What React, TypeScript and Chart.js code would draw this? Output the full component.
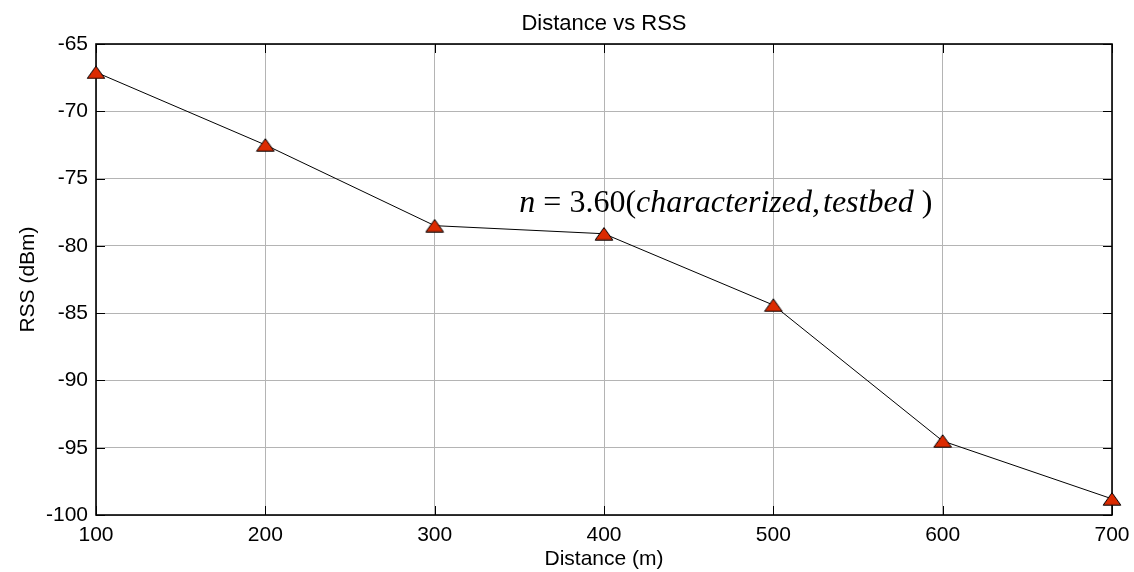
import React, { useEffect, useRef } from "react";
import { Chart, registerables } from "chart.js";

Chart.register(...registerables);

const distances = [100, 200, 300, 400, 500, 600, 700];
const rssValues = [-67.1, -72.5, -78.5, -79.1, -84.4, -94.5, -98.8];
const chartTitle = "Distance vs RSS";
const xTitle = "Distance (m)";
const yTitle = "RSS (dBm)";
const annotationPos = [350, -77.45];
const annotationParts: [string, boolean][] = [
  ["n", true],
  [" = 3.60(", false],
  ["characterized", true],
  [",", false],
  ["testbed", true],
  [" )", false],
];

const SANS = '"Liberation Sans", Arial, sans-serif';
const FS = 21;

function makeTriangle(): HTMLCanvasElement {
  const c = document.createElement("canvas");
  c.width = 20;
  c.height = 14;
  const g = c.getContext("2d")!;
  g.beginPath();
  g.moveTo(10, 0.8);
  g.lineTo(1.2, 13.2);
  g.lineTo(18.8, 13.2);
  g.closePath();
  g.fillStyle = "#dc2a00";
  g.fill();
  g.lineWidth = 1;
  g.strokeStyle = "#000";
  g.stroke();
  return c;
}

const boxPlugin = {
  id: "boxPlugin",
  beforeDatasetsDraw(chart: any) {
    const { ctx, chartArea: a, scales } = chart;
    ctx.save();
    ctx.strokeStyle = "#000";
    ctx.lineWidth = 1;
    const tl = 9;
    scales.x.ticks.forEach((t: any) => {
      const px = Math.round(scales.x.getPixelForValue(t.value)) + 0.5;
      ctx.beginPath();
      ctx.moveTo(px, a.bottom);
      ctx.lineTo(px, a.bottom - tl);
      ctx.moveTo(px, a.top);
      ctx.lineTo(px, a.top + tl);
      ctx.stroke();
    });
    scales.y.ticks.forEach((t: any) => {
      const py = Math.round(scales.y.getPixelForValue(t.value)) + 0.5;
      ctx.beginPath();
      ctx.moveTo(a.left, py);
      ctx.lineTo(a.left + tl, py);
      ctx.moveTo(a.right, py);
      ctx.lineTo(a.right - tl, py);
      ctx.stroke();
    });
    ctx.lineWidth = 1.6;
    ctx.strokeRect(a.left, a.top, a.right - a.left, a.bottom - a.top);
    ctx.restore();
  },
  afterDraw(chart: any) {
    const { ctx, scales, chartArea: a } = chart;
    ctx.save();
    ctx.fillStyle = "#000";
    ctx.textAlign = "center";
    ctx.textBaseline = "alphabetic";
    ctx.font = `22px ${SANS}`;
    ctx.fillText(chartTitle, (a.left + a.right) / 2, 29.5);

    let x = scales.x.getPixelForValue(annotationPos[0]);
    const y = scales.y.getPixelForValue(annotationPos[1]);
    ctx.textAlign = "left";
    annotationParts.forEach(([t, it]) => {
      ctx.font = `${it ? "italic " : ""}32px "Liberation Serif", "Times New Roman", serif`;
      ctx.fillText(t, x, y);
      x += ctx.measureText(t).width + (t === "," ? 3 : 0);
    });
    ctx.restore();
  },
};

export default function App() {
  const ref = useRef<HTMLCanvasElement>(null);
  useEffect(() => {
    const chart = new Chart(ref.current!, {
      type: "line",
      data: {
        datasets: [
          {
            data: distances.map((d, i) => ({ x: d, y: rssValues[i] })),
            borderColor: "#000",
            borderWidth: 1,
            pointStyle: makeTriangle() as any,
            pointRadius: 9,
            tension: 0,
            clip: false as any,
          },
        ],
      },
      options: {
        animation: false,
        responsive: false,
        layout: { padding: { left: 0, right: 22, top: 44, bottom: 0 } },
        plugins: {
          legend: { display: false },
          tooltip: { enabled: false },
          title: { display: false },
        },
        scales: {
          x: {
            type: "linear",
            min: 100,
            max: 700,
            afterFit: (s: any) => {
              s.height = 57;
              s.paddingLeft = 0;
              s.paddingRight = 0;
            },
            ticks: {
              stepSize: 100,
              color: "#000",
              padding: 8,
              font: { family: SANS, size: FS },
            },
            grid: { color: "#b4b4b4", drawTicks: false, lineWidth: 1 },
            border: { display: false },
            title: {
              display: true,
              text: xTitle,
              color: "#000",
              font: { family: SANS, size: FS },
              padding: { top: 0, bottom: 0 },
            },
          },
          y: {
            type: "linear",
            min: -100,
            max: -65,
            afterFit: (s: any) => {
              s.width = 96;
              s.paddingTop = 0;
              s.paddingBottom = 0;
            },
            ticks: {
              stepSize: 5,
              color: "#000",
              padding: 8,
              font: { family: SANS, size: FS },
            },
            grid: { color: "#b4b4b4", drawTicks: false, lineWidth: 1 },
            border: { display: false },
            title: {
              display: true,
              text: yTitle,
              color: "#000",
              font: { family: SANS, size: FS },
              padding: { top: 16, bottom: 0 },
            },
          },
        },
      },
      plugins: [boxPlugin],
    });
    return () => chart.destroy();
  }, []);
  return (
    <div style={{ position: "fixed", left: 0, top: 0, width: 1134, height: 572, background: "#fff" }}>
      <canvas ref={ref} width={1134} height={572} />
    </div>
  );
}
